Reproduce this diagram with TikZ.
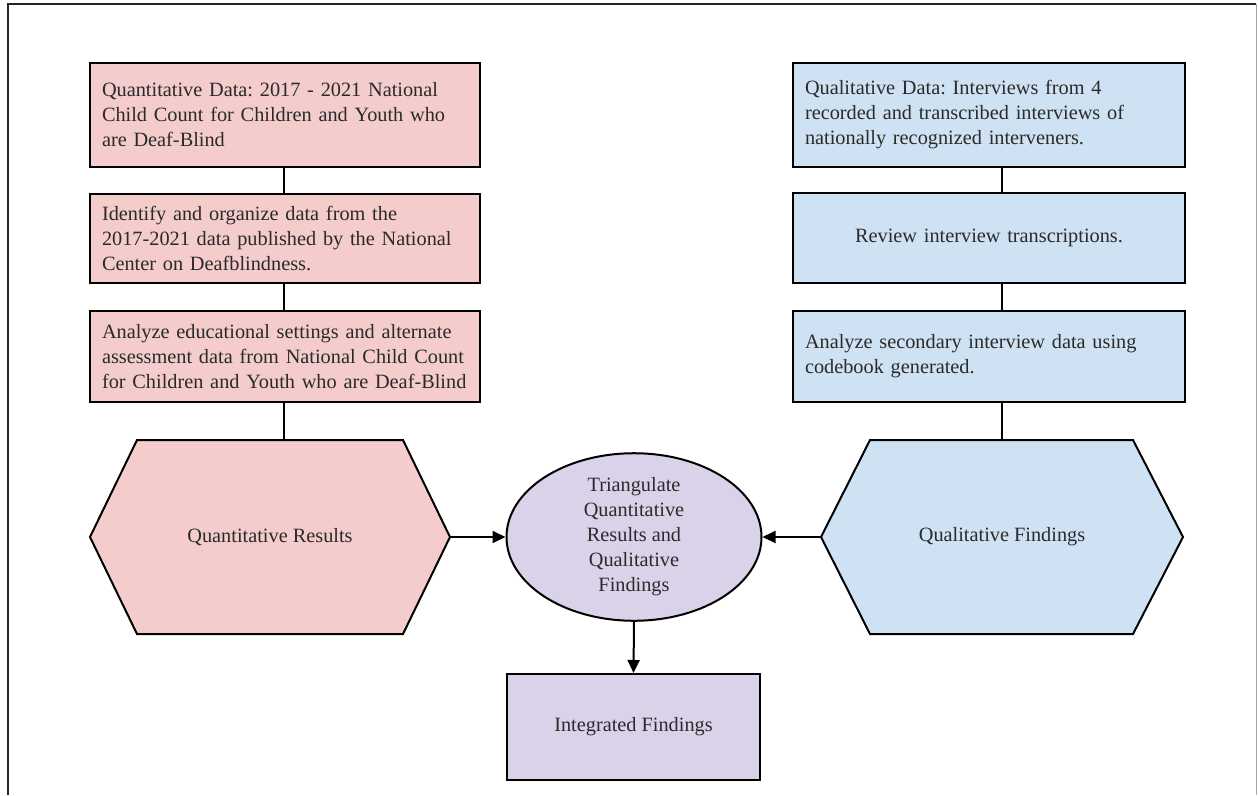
\documentclass[tikz,border=0pt]{standalone}
\usepackage{fontspec}
\setmainfont{Liberation Serif}
\usetikzlibrary{arrows.meta,shapes.geometric}
\definecolor{qpink}{HTML}{F4CCCC}
\definecolor{qblue}{HTML}{CFE2F3}
\definecolor{qpurp}{HTML}{D9D2E9}
\definecolor{txt}{HTML}{2A2A2A}
\frenchspacing
\begin{document}
\begin{tikzpicture}[x=1pt,y=-1pt,line width=2pt,
  every node/.style={font=\fontsize{20.3}{25}\selectfont,text=txt},
  flowbox/.style={draw=black,rectangle,inner xsep=12pt,inner ysep=0pt,align=left},
  pinkbox/.style={flowbox,fill=qpink,text width=366,minimum width=390},
  bluebox/.style={flowbox,fill=qblue,text width=368,minimum width=392},
  hexfill/.style={draw=black,line join=miter},
  link/.style={draw=black,line width=2pt},
  arr/.style={link,-{Triangle[length=13pt,width=12pt]}}]
\useasboundingbox (0,0) rectangle (1258,795);
% frame
\draw[line width=2.5pt,black!85] (8,795) -- (8,4) -- (1256,4);
\draw[line width=1pt,black!35] (1256,4) -- (1256,795);

% left column
\node[pinkbox,minimum height=104] (L1) at (285,115) {Quantitative Data: 2017 - 2021 National\\Child Count for Children and Youth who\\are Deaf-Blind};
\node[pinkbox,minimum height=89] (L2) at (285,238.5) {Identify and organize data from the\\2017-2021 data published by the National\\Center on Deafblindness.};
\node[pinkbox,minimum height=91] (L3) at (285,356.5) {\mbox{Analyze educational settings and alternate}\\\mbox{assessment data from National Child Count}\\\mbox{for Children and Youth who are Deaf-Blind}};

% right column
\node[bluebox,minimum height=104] (R1) at (989,115) {Qualitative Data: Interviews from 4\\recorded and transcribed interviews of\\nationally recognized interveners.};
\node[bluebox,minimum height=90,align=center] (R2) at (989,238) {Review interview transcriptions.};
\node[bluebox,minimum height=91] (R3) at (989,356.5) {Analyze secondary interview data using\\codebook generated.};

% hexagons
\coordinate (QRw) at (90,537);
\coordinate (QRe) at (450,537);
\coordinate (QRn) at (284,440);
\draw[hexfill,fill=qpink] (QRw) -- (137,440) -- (403,440) -- (QRe) -- (403,634) -- (137,634) -- cycle;
\node (QR) at (270,537) {Quantitative Results};

\coordinate (QFw) at (821,537);
\coordinate (QFe) at (1183,537);
\coordinate (QFn) at (1002,440);
\draw[hexfill,fill=qblue] (QFw) -- (870,440) -- (1133,440) -- (QFe) -- (1133,634) -- (870,634) -- cycle;
\node (QF) at (1002,537) {Qualitative Findings};

% centre
\node[draw=black,fill=qpurp,ellipse,minimum width=255,minimum height=149,inner sep=0pt,align=center] (TR) at (634,537) {Triangulate\\Quantitative\\Results and\\Qualitative\\Findings};
\node[draw=black,fill=qpurp,rectangle,minimum width=253,minimum height=106,inner sep=0pt] (IF) at (633.5,727) {Integrated Findings};

% connectors
\draw[link] (L1.south -| QRn) -- (L2.north -| QRn);
\draw[link] (L2.south -| QRn) -- (L3.north -| QRn);
\draw[link] (L3.south -| QRn) -- (QRn);
\draw[link] (R1.south -| QFn) -- (R2.north -| QFn);
\draw[link] (R2.south -| QFn) -- (R3.north -| QFn);
\draw[link] (R3.south -| QFn) -- (QFn);
\draw[arr] (QRe) -- (TR.west);
\draw[arr] (QFw) -- (TR.east);
\draw[arr] (TR.south) -- (IF.north);
\end{tikzpicture}
\end{document}
